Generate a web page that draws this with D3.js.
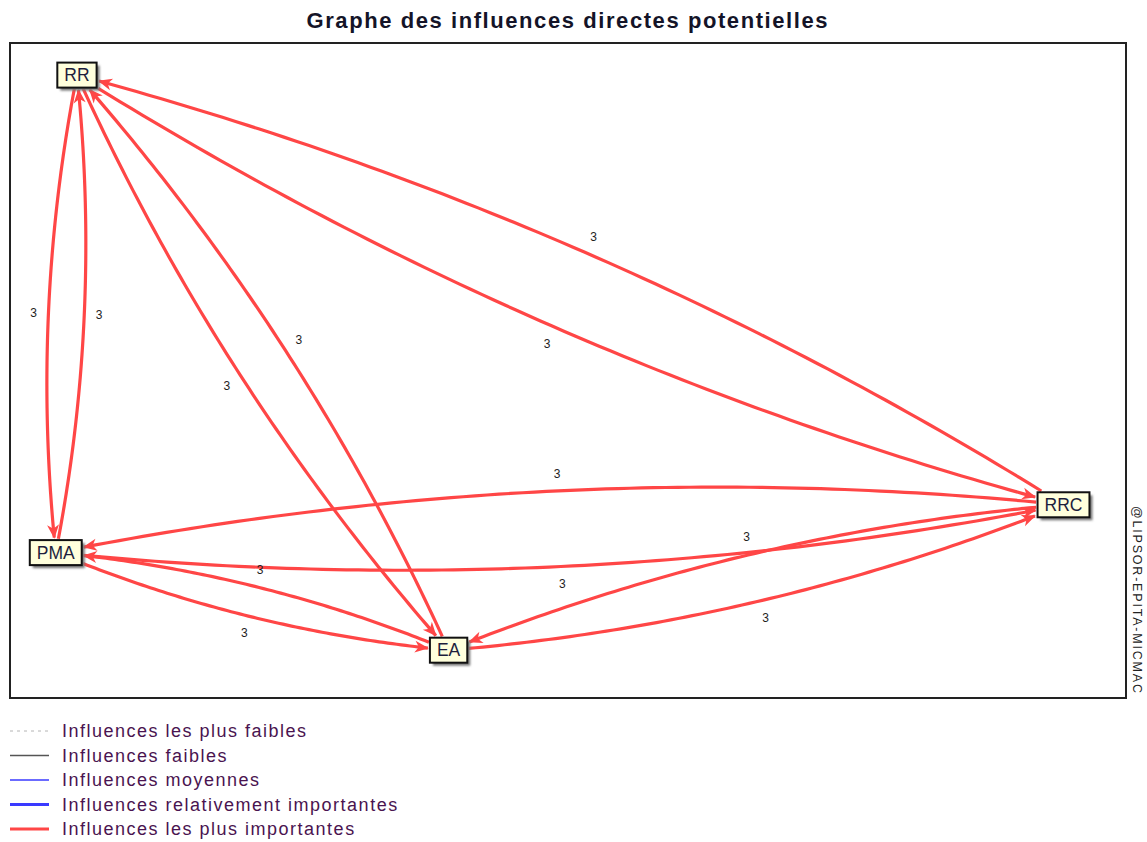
<!doctype html>
<html>
<head>
  <meta charset="utf-8">
  <title>Graphe des influences directes potentielles</title>
  <script src="https://cdn.jsdelivr.net/npm/d3@7"></script>
  <style>
    body { margin: 0; background: #fff; }
    svg { display: block; font-family: Arial, "Liberation Sans", sans-serif; }
  </style>
</head>
<body>
  <div id="chart"></div>

  <script>
    // variables (position in the MICMAC plane, 0..100)
    var nodeNames = ['RR', 'PMA', 'EA', 'RRC'];
    var nodeX = [6.0, 4.1, 39.3, 94.4];
    var nodeY = [4.9, 77.8, 92.7, 70.5];

    // direct influences
    var edgeFrom  = ['RR', 'PMA', 'RR', 'EA', 'RR', 'RRC', 'PMA', 'RRC', 'PMA', 'EA', 'EA', 'RRC'];
    var edgeTo    = ['PMA', 'RR', 'EA', 'RR', 'RRC', 'RR', 'RRC', 'PMA', 'EA', 'PMA', 'RRC', 'EA'];
    var edgeValue = [3, 3, 3, 3, 3, 3, 3, 3, 3, 3, 3, 3];
    var edgeLevel = [4, 4, 4, 4, 4, 4, 4, 4, 4, 4, 4, 4];

    var levelNames = [
      'Influences les plus faibles',
      'Influences faibles',
      'Influences moyennes',
      'Influences relativement importantes',
      'Influences les plus importantes'
    ];

    var width = 1147, height = 842;
    var frame = { left: 10, top: 43, right: 1126, bottom: 698 };

    var levelColor = d3.scaleOrdinal().domain([0, 1, 2, 3, 4])
      .range(['#b4b4b4', '#555555', '#3a3aff', '#3a3aff', '#ff4646']);
    var levelWidth = d3.scaleOrdinal().domain([0, 1, 2, 3, 4])
      .range([1, 1.3, 1.3, 3, 3.2]);
    var levelDash = d3.scaleOrdinal().domain([0, 1, 2, 3, 4])
      .range(['3,4', null, null, null, null]);

    var x = d3.scaleLinear().domain([0, 100]).range([frame.left, frame.right]);
    var y = d3.scaleLinear().domain([0, 100]).range([frame.top, frame.bottom]);

    var svg = d3.select('#chart').append('svg')
      .attr('width', width)
      .attr('height', height);

    var defs = svg.append('defs');
    defs.append('filter').attr('id', 'shadow')
      .append('feGaussianBlur').attr('stdDeviation', 1.2);
    defs.append('marker')
      .attr('id', 'arrow')
      .attr('markerUnits', 'userSpaceOnUse')
      .attr('viewBox', '-15 -8 17 16')
      .attr('markerWidth', 17)
      .attr('markerHeight', 16)
      .attr('refX', 0)
      .attr('refY', 0)
      .attr('orient', 'auto')
      .append('path')
      .attr('d', 'M1,0 L-13,-6 L-9,0 L-13,6 Z')
      .attr('fill', levelColor(4));

    // title
    svg.append('text')
      .attr('x', 567)
      .attr('y', 28)
      .attr('text-anchor', 'middle')
      .attr('font-size', '22px')
      .attr('font-weight', 'bold')
      .attr('fill', '#141428')
      .attr('textLength', 521)
      .attr('lengthAdjust', 'spacing')
      .text('Graphe des influences directes potentielles');

    // frame
    svg.append('rect')
      .attr('x', frame.left)
      .attr('y', frame.top)
      .attr('width', frame.right - frame.left)
      .attr('height', frame.bottom - frame.top)
      .attr('fill', 'none')
      .attr('stroke', '#222')
      .attr('stroke-width', 2);

    svg.append('text')
      .attr('transform', 'translate(1133,506) rotate(90)')
      .attr('font-size', '12.5px')
      .attr('letter-spacing', '1.8px')
      .attr('fill', '#222')
      .text('@LIPSOR-EPITA-MICMAC');

    // nodes: measure text first so boxes fit the labels
    var nodes = nodeNames.map(function(name, i) {
      return { name: name, cx: x(nodeX[i]), cy: y(nodeY[i]) };
    });
    var byName = {};
    nodes.forEach(function(n) { byName[n.name] = n; });

    var measure = svg.append('text').attr('font-size', '17.5px');
    nodes.forEach(function(n) {
      measure.text(n.name);
      n.w = measure.node().getComputedTextLength() + 14;
      n.h = 25;
    });
    measure.remove();

    function inside(n, p, pad) {
      return Math.abs(p[0] - n.cx) <= n.w / 2 + pad && Math.abs(p[1] - n.cy) <= n.h / 2 + pad;
    }

    var edges = edgeFrom.map(function(f, i) {
      var s = byName[f], t = byName[edgeTo[i]];
      var dx = t.cx - s.cx, dy = t.cy - s.cy;
      var len = Math.sqrt(dx * dx + dy * dy);
      var nx = -dy / len, ny = dx / len;
      var off = 0.075 * len;
      var mx = (s.cx + t.cx) / 2, my = (s.cy + t.cy) / 2;
      var c = [mx + nx * off, my + ny * off];
      function bez(u) {
        var a = (1 - u) * (1 - u), b = 2 * u * (1 - u), d = u * u;
        return [a * s.cx + b * c[0] + d * t.cx, a * s.cy + b * c[1] + d * t.cy];
      }
      var u0 = 0, u1 = 1, k;
      for (k = 0; k <= 1000; k++) { if (!inside(s, bez(k / 1000), 1)) { u0 = k / 1000; break; } }
      for (k = 1000; k >= 0; k--) { if (!inside(t, bez(k / 1000), 2)) { u1 = k / 1000; break; } }
      var pts = d3.range(0, 81).map(function(j) { return bez(u0 + (u1 - u0) * j / 80); });
      var lab = off / 2 + 11 + 6 * Math.abs(ny) + 3.5 * Math.abs(nx);
      return {
        pts: pts,
        value: edgeValue[i],
        level: edgeLevel[i],
        lx: mx + nx * lab,
        ly: my + ny * lab
      };
    });

    var line = d3.line();

    svg.append('g').selectAll('path')
      .data(edges)
      .enter()
      .append('path')
      .attr('d', function(d) { return line(d.pts); })
      .attr('fill', 'none')
      .attr('stroke', function(d) { return levelColor(d.level); })
      .attr('stroke-width', function(d) { return levelWidth(d.level); })
      .attr('marker-end', 'url(#arrow)');

    svg.append('g').selectAll('text')
      .data(edges)
      .enter()
      .append('text')
      .attr('x', function(d) { return d.lx; })
      .attr('y', function(d) { return d.ly; })
      .attr('dy', '0.35em')
      .attr('text-anchor', 'middle')
      .attr('font-size', '12px')
      .attr('fill', '#1e1e1e')
      .text(function(d) { return d.value; });

    var node = svg.append('g').selectAll('g')
      .data(nodes)
      .enter()
      .append('g')
      .attr('transform', function(d) { return 'translate(' + d.cx + ',' + d.cy + ')'; });

    node.append('rect')
      .attr('x', function(d) { return -d.w / 2 + 3; })
      .attr('y', function(d) { return -d.h / 2 + 3; })
      .attr('width', function(d) { return d.w; })
      .attr('height', function(d) { return d.h; })
      .attr('fill', '#777')
      .attr('filter', 'url(#shadow)');

    node.append('rect')
      .attr('x', function(d) { return -d.w / 2; })
      .attr('y', function(d) { return -d.h / 2; })
      .attr('width', function(d) { return d.w; })
      .attr('height', function(d) { return d.h; })
      .attr('fill', '#ffffdc')
      .attr('stroke', '#111')
      .attr('stroke-width', 2);

    node.append('text')
      .attr('text-anchor', 'middle')
      .attr('dy', '0.36em')
      .attr('font-size', '17.5px')
      .attr('fill', '#1e1e3c')
      .text(function(d) { return d.name; });

    // legend
    var legend = svg.append('g').selectAll('g')
      .data(levelNames)
      .enter()
      .append('g')
      .attr('transform', function(d, i) { return 'translate(0,' + (731 + i * 24.5) + ')'; });

    legend.append('line')
      .attr('x1', 10).attr('x2', 49)
      .attr('stroke', function(d, i) { return levelColor(i); })
      .attr('stroke-width', function(d, i) { return levelWidth(i); })
      .attr('stroke-dasharray', function(d, i) { return levelDash(i); });

    legend.append('text')
      .attr('x', 62)
      .attr('dy', '0.35em')
      .attr('font-size', '18px')
      .attr('letter-spacing', '1.5px')
      .attr('fill', '#4a1450')
      .text(function(d) { return d; });
  </script>
</body>
</html>
